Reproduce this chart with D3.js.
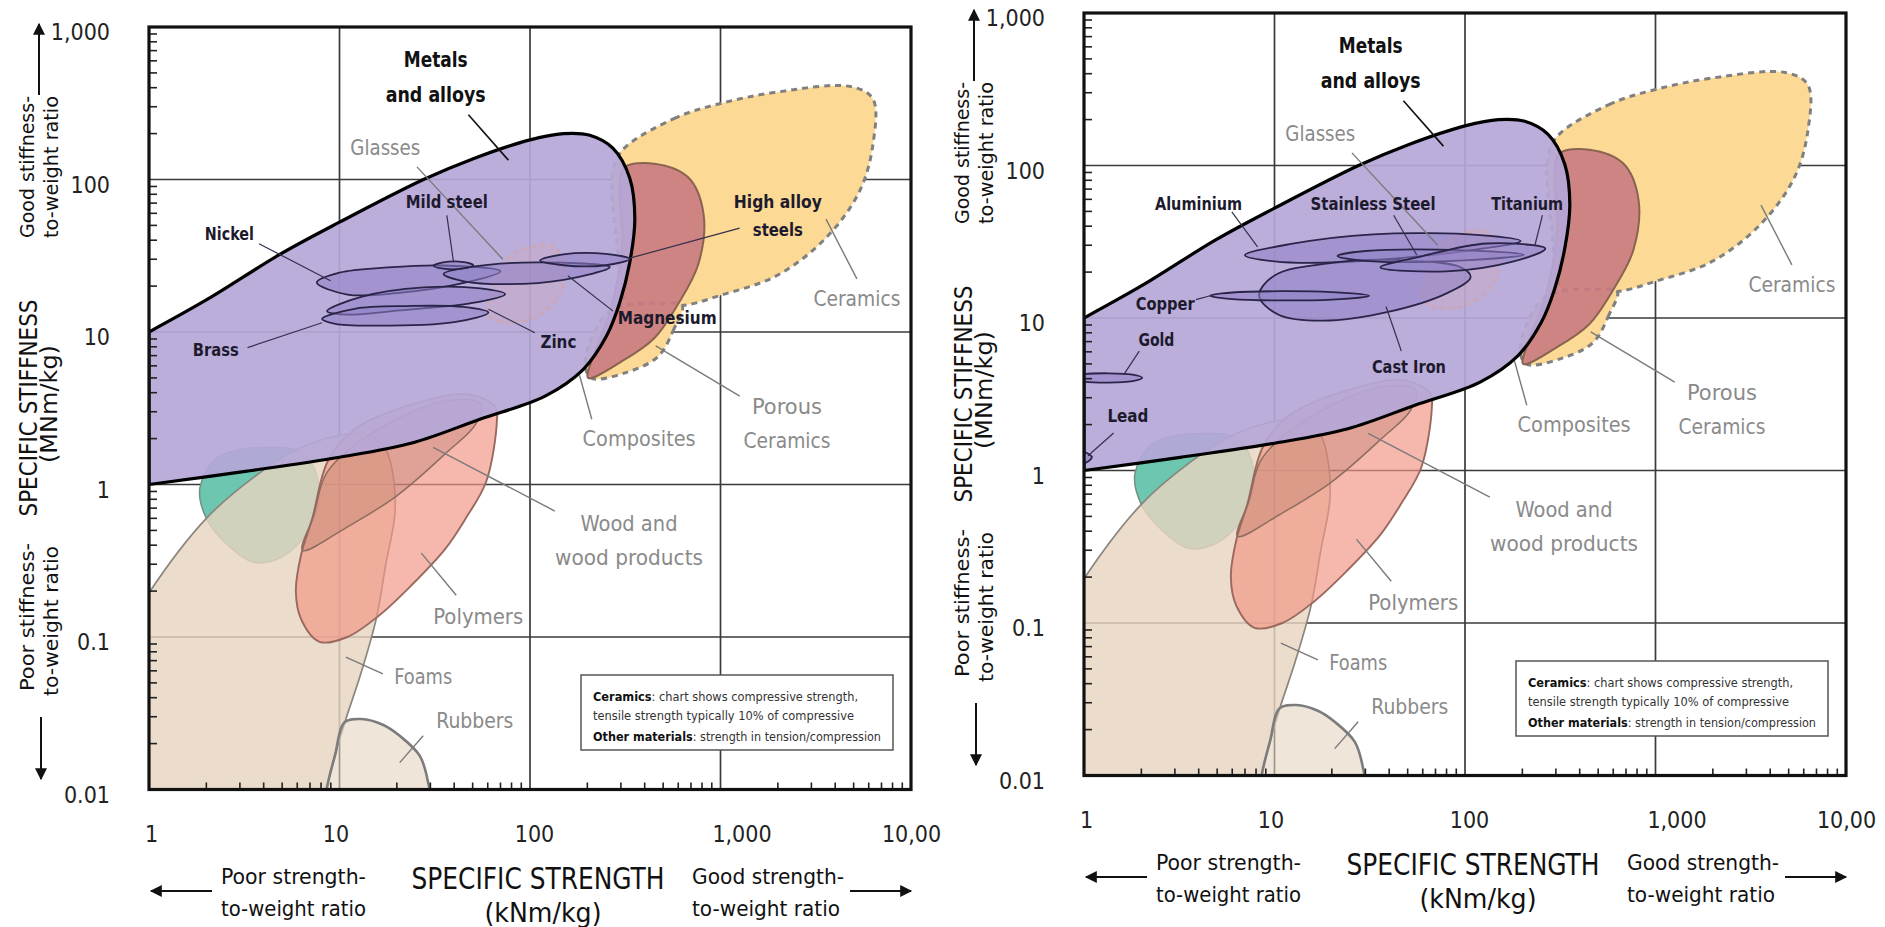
<!DOCTYPE html>
<html lang="en">
<head>
<meta charset="utf-8">
<title>Specific stiffness vs specific strength</title>
<script src="https://cdn.jsdelivr.net/npm/d3@7"></script>
<style>
  body { margin: 0; background: #fff; }
  svg { display: block; }
  text { font-stretch: condensed; }
</style>
</head>
<body>
<script>
// ---- axis ticks ----
const xTickValues = [1, 10, 100, 1000, 10000];
const xTickLabels = ["1", "10", "100", "1,000", "10,00"];
const yTickValues = [0.01, 0.1, 1, 10, 100, 1000];
const yTickLabels = ["0.01", "0.1", "1", "10", "100", "1,000"];

// ---- material family envelopes: [specific strength kNm/kg, specific stiffness MNm/kg] ----
const metalsEnvelope = [[1, 10], [2.03, 16.4], [4.91, 32.5], [10, 52.5], [27.6, 100], [50.4, 137], [100, 182],
  [150, 200], [206, 195], [273, 160], [334, 102], [355, 55], [334, 28.6], [296, 15.6], [252, 9.4], [190, 5.67],
  [120, 3.8], [54.6, 2.68], [24.3, 1.88], [10, 1.51], [3.2, 1.22], [1, 1]];
const ceramicsEnvelope = [[299, 151], [570, 251], [1000, 315], [1970, 374], [4800, 407], [6300, 339], [6300, 167],
  [5350, 83], [3550, 41], [1970, 23.4], [1000, 17.4], [630, 14.9], [331, 15.1], [285, 40], [270, 100]];
const porousCeramicsEnvelope = [[630, 14.9], [570, 10.5], [470, 6.9], [316, 5.4], [209, 5.0], [195, 6.5],
  [250, 13], [331, 15.1], [480, 15.4]];
const compositesEnvelope = [[313, 120], [449, 127], [678, 103], [814, 60], [766, 28], [600, 15.3], [449, 9.1],
  [302, 6.4], [202, 5.0], [215, 7], [265, 14], [305, 40], [295, 90]];
const glassesEnvelope = [[60, 13], [68, 24], [80, 32], [110, 37], [135, 36], [150, 28], [145, 18], [110, 12.7], [75, 11.5]];
const polymersEnvelope = [[7.85, 0.093], [6.3, 0.13], [5.9, 0.2], [6.3, 0.35], [7.2, 0.6], [8.7, 1.43], [12, 2.3],
  [25, 3.4], [48, 3.9], [66, 3.2], [67, 2.6], [59, 1.05], [46, 0.6], [36, 0.38], [24, 0.22], [16.2, 0.139], [11, 0.1]];
const woodEnvelope = [[6.4, 0.37], [10.8, 0.52], [19.9, 0.84], [36.5, 1.62], [52, 2.5], [55, 3.4], [35, 3.5],
  [15, 2.2], [8.6, 1.2], [7.3, 0.62]];
const foamsEnvelope = [[0.7, 0.005], [0.8, 0.12], [1, 0.195], [2, 0.6], [3.6, 1.13], [6, 1.7], [10, 2.1], [14, 2.15],
  [17.5, 1.7], [19.3, 1.05], [19.5, 0.63], [17.5, 0.3], [15.6, 0.132], [12.8, 0.055], [10.8, 0.029], [9.5, 0.017],
  [8.5, 0.0095], [8, 0.005], [3, 0.004]];
const rubbersEnvelope = [[8.3, 0.005], [8.5, 0.0095], [9.5, 0.017], [10.6, 0.0275], [13, 0.029], [17, 0.0265],
  [20.7, 0.0225], [26.4, 0.0166], [29.2, 0.0111], [31, 0.005], [18, 0.003]];
const unlabelledEnvelope = [[1.85, 0.95], [2.0, 0.6], [2.6, 0.4], [3.5, 0.31], [4.6, 0.32], [6.2, 0.42], [7.5, 0.65],
  [7.8, 1.0], [6.5, 1.6], [4, 1.75], [2.3, 1.5]];

// ---- individual metals ----
const leftAlloys = [
  {name: "Nickel", outline: [[7.6, 21.1], [10, 24.5], [18, 26.5], [35, 27.3], [70, 25], [45, 21], [20, 18], [11, 17.6]]},
  {name: "Zinc", outline: [[8.6, 13.7], [13, 17], [27.6, 19.6], [55, 19.3], [74, 17.7], [50, 15.5], [20, 13.8], [11, 13]]},
  {name: "Brass", outline: [[8.1, 12.2], [12, 14.2], [22.6, 14.8], [45, 14.6], [60.5, 13.4], [40, 11.6], [15, 11], [9.5, 11.3]]},
  {name: "Magnesium", outline: [[35.2, 24], [50, 26.8], [112, 28.6], [262, 26.6], [150, 22], [75.5, 20.6], [45, 21.5]]},
  {name: "Mild steel", outline: [[31.2, 27.2], [35, 28.6], [45, 28.7], [50.4, 27.4], [44, 26], [35, 26]]},
  {name: "High alloy steels", outline: [[113, 29.4], [150, 32.3], [250, 32.5], [334, 30.1], [250, 27.4], [150, 27.4]]}
];
const rightAlloys = [
  {name: "Aluminium", outline: [[7, 25.8], [12, 30.5], [33, 35.4], [120, 35], [196, 32], [100, 27.5], [22, 23.2], [10, 23.5]]},
  {name: "Cast Iron", outline: [[8.3, 14], [10, 19], [20, 23], [45, 24], [95, 21.5], [107, 18.5], [80, 14.5], [40, 11], [18, 9.6], [10.5, 10.5]]},
  {name: "Stainless Steel", outline: [[21.4, 25.5], [30, 27.5], [100, 27.8], [204, 26], [100, 23.9], [30, 23.7]]},
  {name: "Titanium", outline: [[36, 21.5], [60, 25.5], [130, 30.8], [264, 28.5], [180, 23.5], [80, 20.2]]},
  {name: "Copper", outline: [[4.6, 14], [6, 14.7], [20, 14.8], [31.4, 14], [20, 13.2], [6, 13.3]]},
  {name: "Gold", outline: [[0.85, 4.05], [1, 4.28], [1.8, 4.25], [2.02, 4.05], [1.8, 3.85], [1, 3.83]]},
  {name: "Lead", outline: [[0.85, 1.2], [1, 1.32], [1.1, 1.22], [1, 1.12]]}
];

// ---- annotations (data coordinates) ----
const metalsTitle = [["Metals", 32, 612], ["and alloys", 32, 362]];
const metalsLeader = [[47.5, 266], [77, 134]];
const familyNames = [
  ["Glasses", 17.4, 160], ["Ceramics", 5200, 16.5], ["Porous", 2234, 3.2], ["Ceramics", 2234, 1.94],
  ["Composites", 374, 1.99], ["Wood and", 331, 0.55], ["wood products", 331, 0.332],
  ["Polymers", 53.5, 0.1355], ["Foams", 27.5, 0.0545], ["Rubbers", 51.3, 0.0282]
];
const familyLeaders = [
  [[25.5, 121], [72, 30]], [[5200, 22.3], [3580, 55]], [[1262, 3.8], [457, 8.1]], [[211, 2.68], [182, 5.2]],
  [[135, 0.67], [31, 1.75]], [[41, 0.188], [26.9, 0.355]], [[16.9, 0.0573], [10.8, 0.0738]], [[27.5, 0.0225], [20.7, 0.015]]
];
const leftAlloyLabels = [
  ["Nickel", 2.64, 44, [3.78, 37.9], [8.97, 21.7]],
  ["Mild steel", 36.6, 71.3, [36.6, 58.2], [39.7, 28.6]],
  ["High alloy", 2000, 72, null, null],
  ["steels", 2000, 47, [1260, 48], [334, 30.5]],
  ["Brass", 2.24, 7.7, [3.29, 7.9], [8.1, 11.5]],
  ["Zinc", 141, 8.7, [106, 9.9], [60.5, 14.1]],
  ["Magnesium", 525, 12.5, [273, 13.7], [158, 23.4]]
];
const rightAlloyLabels = [
  ["Aluminium", 3.99, 56.5, [5.97, 49.6], [8.15, 29.3]],
  ["Stainless Steel", 32.9, 56.2, [42.2, 47.2], [55.8, 25.9]],
  ["Titanium", 212, 56.5, [255, 47.2], [233, 30.1]],
  ["Copper", 2.67, 12.5, [3.87, 13.2], [4.81, 14.2]],
  ["Cast Iron", 50.8, 4.84, [46.3, 6.07], [38.5, 11.9]],
  ["Gold", 2.4, 7.2, [1.95, 6.07], [1.62, 4.27]],
  ["Lead", 1.7, 2.29, [1.43, 1.76], [1.05, 1.25]]
];

// ---- drawing ----
const FONT = "'DejaVu Sans Condensed', 'Liberation Sans Narrow', 'Roboto Condensed', 'DejaVu Sans', sans-serif";
const PLAIN = "'DejaVu Sans', 'Open Sans', sans-serif";
const W = 762, H = 762.5;
const widths = {"Metals": 64, "and alloys": 100, "Glasses": 70, "Ceramics": 87, "Porous": 70, "Composites": 113,
  "Wood and": 97, "wood products": 148, "Polymers": 90, "Foams": 58, "Rubbers": 77, "Nickel": 49, "Mild steel": 82,
  "High alloy": 88, "steels": 50, "Brass": 46, "Zinc": 36, "Magnesium": 99, "Aluminium": 87, "Stainless Steel": 125,
  "Titanium": 72, "Copper": 59, "Cast Iron": 74, "Gold": 36, "Lead": 41};
const xLabelShift = {"1": 2, "10": -4, "100": 4, "1,000": 21, "10,00": 0};

const svg = d3.select("body").append("svg").attr("width", 1885).attr("height", 927);
const defs = svg.append("defs");
defs.append("marker").attr("id", "arrowhead")
  .attr("viewBox", "0 0 10 10").attr("refX", 9).attr("refY", 5)
  .attr("markerWidth", 7).attr("markerHeight", 6).attr("orient", "auto")
  .append("path").attr("d", "M0,0 L10,5 L0,10 z").attr("fill", "#111");

function fitText(sel, str, len) {
  sel.text(str);
  if (len) sel.attr("textLength", len).attr("lengthAdjust", "spacingAndGlyphs");
  return sel;
}

function drawPanel(p) {
  const x = d3.scaleLog().domain([1, 10000]).range([0, W]);
  const y = d3.scaleLog().domain([0.01, 1000]).range([H, 0]);
  const g = svg.append("g").attr("transform", `translate(${p.ox},${p.oy})`);
  const clipId = "clip" + p.id;
  defs.append("clipPath").attr("id", clipId).append("rect").attr("width", W).attr("height", H);

  const closed = d3.line().x(d => x(d[0])).y(d => y(d[1])).curve(d3.curveCatmullRomClosed.alpha(0.5));
  const open = d3.line().x(d => x(d[0])).y(d => y(d[1])).curve(d3.curveCatmullRom.alpha(0.5));
  const straight = d3.line().x(d => x(d[0])).y(d => y(d[1]));

  // grid
  g.append("g").selectAll("line").data(xTickValues.slice(1, -1)).join("line")
    .attr("x1", d => x(d)).attr("x2", d => x(d)).attr("y1", 0).attr("y2", H)
    .attr("stroke", "#3a3a3a").attr("stroke-width", 1.7);
  g.append("g").selectAll("line").data(yTickValues.slice(1, -1)).join("line")
    .attr("y1", d => y(d)).attr("y2", d => y(d)).attr("x1", 0).attr("x2", W)
    .attr("stroke", "#3a3a3a").attr("stroke-width", 1.7);

  // material families
  const r = g.append("g").attr("clip-path", `url(#${clipId})`);
  r.append("path").attr("d", closed(unlabelledEnvelope)).attr("fill", "#6cc6b0").attr("stroke", "#73907f").attr("stroke-width", 1.5);
  r.append("path").attr("d", closed(foamsEnvelope)).attr("fill", "#e6d4bf").attr("fill-opacity", 0.82)
    .attr("stroke", "#8a867e").attr("stroke-width", 1.7);
  r.append("path").attr("d", closed(rubbersEnvelope)).attr("fill", "#e6d4bf").attr("fill-opacity", 0.6)
    .attr("stroke", "#7c7c7c").attr("stroke-width", 2.6);
  r.append("path").attr("d", closed(polymersEnvelope)).attr("fill", "#f19686").attr("fill-opacity", 0.68)
    .attr("stroke", "#99695e").attr("stroke-width", 1.9);
  r.append("path").attr("d", closed(woodEnvelope)).attr("fill", "#a86a58").attr("fill-opacity", 0.28)
    .attr("stroke", "#8d6d60").attr("stroke-width", 1.5);
  r.append("path").attr("d", closed(ceramicsEnvelope)).attr("fill", "#fcd995")
    .attr("stroke", "#808080").attr("stroke-width", 3).attr("stroke-dasharray", "6,5");
  r.append("path").attr("d", closed(porousCeramicsEnvelope)).attr("fill", "#fcd995")
    .attr("stroke", "#808080").attr("stroke-width", 3).attr("stroke-dasharray", "6,5");
  r.append("path").attr("d", closed(compositesEnvelope)).attr("fill", "#c97a80").attr("fill-opacity", 0.9)
    .attr("stroke", "#8a6350").attr("stroke-width", 2);
  r.append("path").attr("d", open(metalsEnvelope) + "Z").attr("fill", "#b5a7d8").attr("fill-opacity", 0.92)
    .attr("stroke", "#000").attr("stroke-width", 3.2);
  r.append("path").attr("d", closed(glassesEnvelope)).attr("fill", "#e0a5a0").attr("fill-opacity", 0.2)
    .attr("stroke", "#d9a29a").attr("stroke-width", 2.5).attr("stroke-dasharray", "5,4").attr("stroke-opacity", 0.5);
  r.selectAll(".alloy").data(p.alloys).join("path").attr("class", "alloy")
    .attr("d", d => closed(d.outline)).attr("fill", "#9080c6").attr("fill-opacity", 0.55)
    .attr("stroke", "#2a2448").attr("stroke-width", 1.8);

  // minor ticks, frame
  const isDecade = v => Math.abs(Math.log10(v) - Math.round(Math.log10(v))) < 1e-6;
  g.append("g").selectAll("line").data(y.ticks().filter(v => !isDecade(v))).join("line")
    .attr("x1", 0).attr("x2", 8).attr("y1", d => y(d)).attr("y2", d => y(d))
    .attr("stroke", "#222").attr("stroke-width", 1.6);
  g.append("g").selectAll("line").data(x.ticks().filter(v => !isDecade(v))).join("line")
    .attr("y1", H).attr("y2", H - 7).attr("x1", d => x(d)).attr("x2", d => x(d))
    .attr("stroke", "#222").attr("stroke-width", 1.6);
  g.append("rect").attr("width", W).attr("height", H).attr("fill", "none")
    .attr("stroke", "#111").attr("stroke-width", 3.2);

  // leaders
  const lead = g.append("g").attr("fill", "none");
  lead.append("path").attr("d", straight(metalsLeader)).attr("stroke", "#111").attr("stroke-width", 1.6);
  lead.selectAll(".fl").data(familyLeaders).join("path").attr("class", "fl")
    .attr("d", d => straight(d)).attr("stroke", "#7a7a7a").attr("stroke-width", 1.4);
  lead.selectAll(".al").data(p.labels.filter(d => d[3])).join("path").attr("class", "al")
    .attr("d", d => straight([d[3], d[4]])).attr("stroke", "#35304c").attr("stroke-width", 1.2);

  // labels
  const lab = g.append("g").attr("font-family", FONT).attr("text-anchor", "middle").attr("dominant-baseline", "central");
  metalsTitle.forEach(d => fitText(lab.append("text"), d[0], widths[d[0]])
    .attr("x", x(d[1])).attr("y", y(d[2])).attr("font-size", 22).attr("font-weight", 600).attr("fill", "#111"));
  familyNames.forEach(d => fitText(lab.append("text"), d[0], widths[d[0]])
    .attr("x", x(d[1])).attr("y", y(d[2])).attr("font-size", 21).attr("fill", "#8a8a8a"));
  p.labels.forEach(d => fitText(lab.append("text"), d[0], widths[d[0]])
    .attr("x", x(d[1])).attr("y", y(d[2])).attr("font-size", 18).attr("font-weight", 600).attr("fill", "#1d1a2e"));

  // note box
  const note = g.append("g").attr("transform", "translate(432,648)").attr("font-family", FONT)
    .attr("font-size", 11.5).attr("fill", "#333");
  note.append("rect").attr("width", 312).attr("height", 75).attr("fill", "#fff").attr("stroke", "#555").attr("stroke-width", 1.5);
  const l1 = note.append("text").attr("x", 12).attr("y", 26).attr("textLength", 265).attr("lengthAdjust", "spacingAndGlyphs");
  l1.append("tspan").attr("font-weight", 700).attr("fill", "#111").text("Ceramics");
  l1.append("tspan").text(": chart shows compressive strength,");
  note.append("text").attr("x", 12).attr("y", 45).attr("textLength", 261).attr("lengthAdjust", "spacingAndGlyphs")
    .text("tensile strength typically 10% of compressive");
  const l3 = note.append("text").attr("x", 12).attr("y", 66).attr("textLength", 288).attr("lengthAdjust", "spacingAndGlyphs");
  l3.append("tspan").attr("font-weight", 700).attr("fill", "#111").text("Other materials");
  l3.append("tspan").text(": strength in tension/compression");

  // tick labels
  const yAxis = d3.axisLeft(y).tickValues(yTickValues).tickFormat((d, i) => yTickLabels[i]).tickSize(0).tickPadding(39);
  g.append("g").call(yAxis).attr("font-family", FONT).attr("font-size", 23)
    .call(a => a.select(".domain").remove())
    .selectAll("text").attr("fill", "#222").attr("dy", "0.55em");
  const xAxis = d3.axisBottom(x).tickValues(xTickValues).tickFormat((d, i) => xTickLabels[i]).tickSize(0).tickPadding(36);
  g.append("g").attr("transform", `translate(0,${H})`).call(xAxis).attr("font-family", FONT).attr("font-size", 23)
    .call(a => a.select(".domain").remove())
    .selectAll("text").attr("fill", "#222").attr("dx", (d, i) => xLabelShift[xTickLabels[i]]);

  // axis titles
  const t = g.append("g").attr("fill", "#111").attr("dominant-baseline", "central");
  const rot = (txt, cx, cy, len, size, fam, weight) => fitText(t.append("text"), txt, len)
    .attr("transform", `translate(${cx},${cy}) rotate(-90)`).attr("text-anchor", "middle")
    .attr("font-size", size).attr("font-family", fam).attr("font-weight", weight || 400);
  rot("Good stiffness-", -122, 140, 142, 19, PLAIN);
  rot("to-weight ratio", -98, 140, 142, 19, PLAIN);
  rot("SPECIFIC STIFFNESS", -121, 381, 217, 25, FONT, 500);
  rot("(MNm/kg)", -100, 377, 118, 23, FONT, 500);
  rot("Poor stiffness-", -122, 590, 148, 19, PLAIN);
  rot("to-weight ratio", -98, 594, 150, 19, PLAIN);
  const flat = (txt, px, py, len, size, anchor) => fitText(t.append("text"), txt, len)
    .attr("x", px).attr("y", py).attr("text-anchor", anchor).attr("font-size", size).attr("font-family", FONT);
  flat("Poor strength-", 72, 849, 145, 22, "start");
  flat("to-weight ratio", 72, 881, 145, 22, "start");
  flat("SPECIFIC STRENGTH", 389, 851, 253, 30, "middle");
  flat("(kNm/kg)", 394, 885, 117, 27, "middle");
  flat("Good strength-", 543, 849, 152, 22, "start");
  flat("to-weight ratio", 543, 881, 148, 22, "start");

  // arrows
  const arrow = (x1, y1, x2, y2) => g.append("line").attr("x1", x1).attr("y1", y1).attr("x2", x2).attr("y2", y2)
    .attr("stroke", "#111").attr("stroke-width", 2).attr("marker-end", "url(#arrowhead)");
  arrow(-110, 68, -110, -3);
  arrow(-108, 690, -108, 752);
  arrow(63, 864, 2, 864);
  arrow(701, 864, 762, 864);
}

drawPanel({ox: 149, oy: 27, id: "L", alloys: leftAlloys, labels: leftAlloyLabels});
drawPanel({ox: 1084, oy: 13, id: "R", alloys: rightAlloys, labels: rightAlloyLabels});
</script>
</body>
</html>
